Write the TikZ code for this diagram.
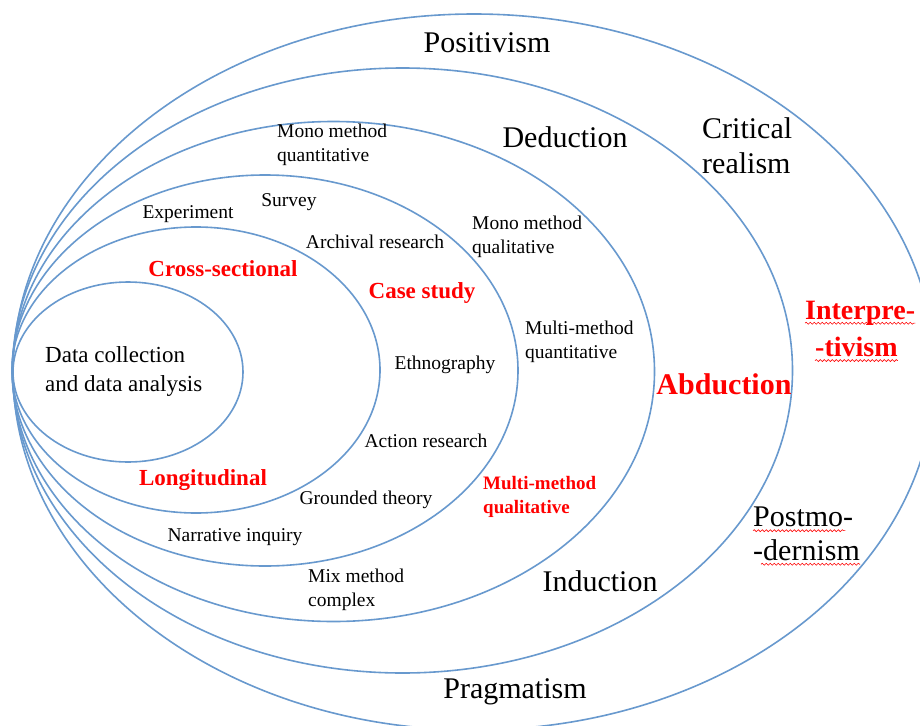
\documentclass[tikz,border=0pt]{standalone}
\usepackage{fontspec}
\setmainfont{Liberation Serif}
\usepackage{xcolor}
\usetikzlibrary{decorations.pathmorphing}

\definecolor{onionblue}{RGB}{104,153,206}

\tikzset{
	layer/.style={draw=onionblue, line width=1.6pt},
	bigtext/.style={inner sep=0pt, font=\fontsize{30}{35}\selectfont},
	bigred/.style={inner sep=0pt, text=red, font=\bfseries\fontsize{30}{35}\selectfont},
	midtext/.style={inner sep=0pt, align=left, font=\fontsize{23}{29}\selectfont},
	midred/.style={inner sep=0pt, text=red, font=\bfseries\fontsize{23}{28}\selectfont},
	smalltext/.style={inner sep=0pt, align=left, font=\fontsize{19.5}{24}\selectfont},
	smallred/.style={inner sep=0pt, align=left, text=red, font=\bfseries\fontsize{19}{24}\selectfont},
	squiggle/.style={draw=red, line width=0.6pt, decorate,
		decoration={snake, amplitude=1pt, segment length=4pt}}
}

\begin{document}
\begin{tikzpicture}[x=1pt,y=-1pt]
		\clip (0,0) rectangle (920,725);
		\fill[white] (0,0) rectangle (920,725);

		% the six layers of the onion
		\draw[layer] (474,372) ellipse [x radius=461pt, y radius=358pt];
		\draw[layer] (402.5,370.5) ellipse [x radius=390pt, y radius=302.5pt];
		\draw[layer] (333.5,371.5) ellipse [x radius=321pt, y radius=250pt];
		\draw[layer] (265,370.5) ellipse [x radius=253pt, y radius=195.5pt];
		\draw[layer] (196,370) ellipse [x radius=184pt, y radius=143pt];
		\draw[layer] (128,372) ellipse [x radius=115pt, y radius=90pt];

		% philosophies
		\node[bigtext] (positivism) at (487,43) {Positivism};
		\node[bigtext, align=left, anchor=west] (critical) at (702,146) {Critical\\realism};
		\node[bigred, font=\bfseries\fontsize{28}{33}\selectfont, anchor=west] (interp1) at (805,313) {Interpre-};
		\node[bigred, font=\bfseries\fontsize{28}{33}\selectfont, anchor=west] (interp2) at (815,347) {-tivism};
		\node[bigtext, anchor=west] (postmo1) at (753,517) {Postmo-};
		\node[bigtext, anchor=west] (postmo2) at (753,550) {-dernism};
		\node[bigtext] (pragmatism) at (515,692) {Pragmatism};

		\draw[squiggle] ([yshift=-4pt]interp1.base west) -- ([yshift=-4pt]interp1.base east);
		\draw[squiggle] ([yshift=-4pt]interp2.base west) -- ([yshift=-4pt]interp2.base east);
		\draw[squiggle] ([yshift=-4pt]postmo1.base west) -- ([yshift=-4pt,xshift=-8pt]postmo1.base east);
		\draw[squiggle] ([yshift=-4pt,xshift=8pt]postmo2.base west) -- ([yshift=-4pt]postmo2.base east);

		% approaches
		\node[bigtext] (deduction) at (565,137) {Deduction};
		\node[bigred] (abduction) at (724,384) {Abduction};
		\node[bigtext] (induction) at (600,581) {Induction};

		% methodological choice
		\node[smalltext, anchor=west] (monoquan) at (277,145) {Mono method\\quantitative};
		\node[smalltext, anchor=west] (monoqual) at (472,237) {Mono method\\qualitative};
		\node[smalltext, anchor=west] (multiquan) at (525,342) {Multi-method\\quantitative};
		\node[smallred, anchor=west] (multiqual) at (483,497) {Multi-method\\qualitative};
		\node[smalltext, anchor=west] (mixmethod) at (308,590) {Mix method\\complex};

		% strategies
		\node[smalltext] (experiment) at (188,214) {Experiment};
		\node[smalltext] (survey) at (289,202) {Survey};
		\node[smalltext] (archival) at (375,242) {Archival research};
		\node[midred] (casestudy) at (422,293) {Case study};
		\node[smalltext] (ethnography) at (445,365) {Ethnography};
		\node[smalltext] (action) at (426,441) {Action research};
		\node[smalltext] (grounded) at (366,500) {Grounded theory};
		\node[smalltext] (narrative) at (235,537) {Narrative inquiry};

		% time horizons
		\node[midred] (crosssec) at (223,269) {Cross-sectional};
		\node[midred] (longitud) at (203,480) {Longitudinal};

		% techniques and procedures
		\node[midtext, anchor=west] (datacoll) at (45,371) {Data collection\\and data analysis};
	\end{tikzpicture}
\end{document}
